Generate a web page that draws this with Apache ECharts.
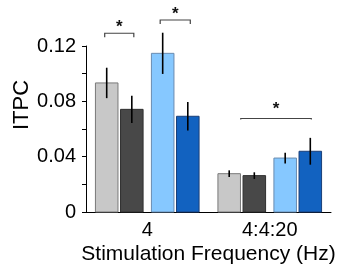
<!DOCTYPE html>
<html>
<head>
<meta charset="utf-8">
<script src="https://cdn.jsdelivr.net/npm/echarts@6/dist/echarts.min.js"></script>
<style>
  html, body { margin: 0; padding: 0; background: #fff; }
  #chart { width: 339px; height: 265px; }
</style>
</head>
<body>
<div id="chart"></div>
<script>
(function() {
  // --- data ---
  var categories = ['4', '4:4:20'];
  var grayLight = [0.0933, 0.0277];
  var grayLightErr = [0.011, 0.0024];
  var grayDark = [0.0742, 0.0263];
  var grayDarkErr = [0.0099, 0.0024];
  var blueLight = [0.1147, 0.0390];
  var blueLightErr = [0.0149, 0.0039];
  var blueDark = [0.0692, 0.0439];
  var blueDarkErr = [0.0103, 0.0097];
  var yTicks = [0, 0.04, 0.08, 0.12];
  // [category, from bar slot, to bar slot, level]
  var sigBrackets = [[0, 0, 1, 0.1292], [0, 2, 3, 0.1388], [1, 0.5, 3, 0.0676]];

  // --- styles ---
  var font = '"Liberation Sans", Arial, sans-serif';
  var slotOffset = [-0.331, -0.126, 0.126, 0.331]; // fraction of band
  var barFrac = 0.184;
  var fills = ['#c8c8c8', '#484848', '#86c8ff', '#1262c0'];
  var borders = ['#7a7a7a', '#303030', '#6a8cb0', '#1a3f78'];
  var bracketLeg = [4, 4, 1];
  var bracketExt = [2, 2.5, 1];
  var starGap = [6, 6, 9];

  function slotX(band, s) {
    var i = Math.floor(s), f = s - i;
    var o = f > 0 ? slotOffset[i] + (slotOffset[i + 1] - slotOffset[i]) * f : slotOffset[i];
    return band * o;
  }

  function barSeries(idx, means, errs) {
    return {
      type: 'custom',
      clip: false,
      data: means.map(function(m, i) { return [i, m, errs[i]]; }),
      renderItem: function(params, api) {
        var cat = api.value(0), v = api.value(1), e = api.value(2);
        var band = api.size([1, 0])[0];
        var base = api.coord([cat, 0]);
        var top = api.coord([cat, v]);
        var hi = api.coord([cat, v + e]);
        var lo = api.coord([cat, v - e]);
        var w = band * barFrac;
        var cx = base[0] + band * slotOffset[idx];
        return {
          type: 'group',
          children: [
            { type: 'rect', shape: { x: cx - w / 2, y: top[1], width: w, height: base[1] - top[1] },
              style: { fill: fills[idx], stroke: borders[idx], lineWidth: 1 } },
            { type: 'line', shape: { x1: cx, y1: hi[1], x2: cx, y2: lo[1] },
              style: { stroke: '#000', lineWidth: 1.6 } }
          ]
        };
      }
    };
  }

  var chart = echarts.init(document.getElementById('chart'));
  chart.setOption({
    animation: false,
    grid: { left: 86, right: 8, top: 46, bottom: 53, outerBoundsMode: 'none', containLabel: false },
    xAxis: {
      type: 'category',
      data: categories,
      name: 'Stimulation Frequency (Hz)',
      nameLocation: 'middle',
      nameGap: 32,
      nameMoveOverlap: false,
      nameTextStyle: { color: '#000', fontFamily: font, fontSize: 21 },
      axisLine: { lineStyle: { color: '#000', width: 1 } },
      axisTick: { show: false },
      minorTick: { show: false },
      splitLine: { show: false },
      axisLabel: { color: '#000', fontFamily: font, fontSize: 20, margin: 8 }
    },
    yAxis: {
      type: 'value',
      min: 0,
      max: 0.12,
      interval: 0.04,
      name: 'ITPC',
      nameLocation: 'middle',
      nameGap: 53,
      nameMoveOverlap: false,
      nameTextStyle: { color: '#000', fontFamily: font, fontSize: 22, padding: [0, 0, 0, 48] },
      axisLine: { show: true, lineStyle: { color: '#000', width: 1 } },
      axisTick: { show: true, length: 4, lineStyle: { color: '#000' } },
      minorTick: { show: true, splitNumber: 2, length: 4, lineStyle: { color: '#000' } },
      splitLine: { show: false },
      axisLabel: {
        color: '#000', fontFamily: font, fontSize: 20, margin: 10,
        formatter: function(v) {
          for (var i = 0; i < yTicks.length; i++) {
            if (Math.abs(v - yTicks[i]) < 1e-9) return v === 0 ? '0' : yTicks[i].toFixed(2);
          }
          return '';
        }
      }
    },
    series: [
      barSeries(0, grayLight, grayLightErr),
      barSeries(1, grayDark, grayDarkErr),
      barSeries(2, blueLight, blueLightErr),
      barSeries(3, blueDark, blueDarkErr),
      {
        type: 'custom',
        clip: false,
        data: sigBrackets,
        renderItem: function(params, api) {
          var k = params.dataIndex;
          var cat = api.value(0);
          var band = api.size([1, 0])[0];
          var p = api.coord([cat, api.value(3)]);
          var x1 = p[0] + slotX(band, api.value(1)) - bracketExt[k];
          var x2 = p[0] + slotX(band, api.value(2)) + bracketExt[k];
          var y = p[1], leg = bracketLeg[k];
          return {
            type: 'group',
            children: [
              { type: 'polyline', shape: { points: [[x1, y + leg], [x1, y], [x2, y], [x2, y + leg]] },
                style: { stroke: '#444', lineWidth: 1.2, fill: null } },
              { type: 'text', x: (x1 + x2) / 2, y: y - starGap[k],
                style: { text: '*', fill: '#111', font: 'bold 17px ' + font, align: 'center', verticalAlign: 'middle' } }
            ]
          };
        }
      }
    ]
  });
})();
</script>
</body>
</html>
